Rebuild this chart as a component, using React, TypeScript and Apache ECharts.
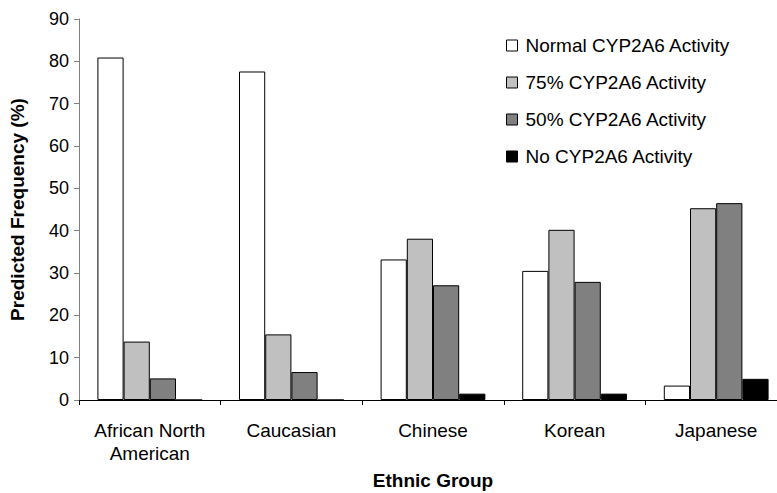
import React, { useEffect, useRef } from "react";
import * as echarts from "echarts";

const categories = ["African North\nAmerican", "Caucasian", "Chinese", "Korean", "Japanese"];
const seriesNames = ["Normal CYP2A6 Activity", "75% CYP2A6 Activity", "50% CYP2A6 Activity", "No CYP2A6 Activity"];
const normalActivity = [80.9, 77.6, 33.2, 30.5, 3.4];
const activity75 = [13.8, 15.5, 38.1, 40.2, 45.3];
const activity50 = [5.1, 6.6, 27.1, 27.9, 46.5];
const noActivity = [0, 0, 1.5, 1.5, 5.0];
const colors = ["#ffffff", "#c0c0c0", "#808080", "#000000"];

const FONT = "'Liberation Sans', Arial, sans-serif";

export default function App() {
  const ref = useRef<HTMLDivElement>(null);
  useEffect(() => {
    if (!ref.current) return;
    const chart = echarts.init(ref.current, null, { renderer: "svg" });
    const values = [normalActivity, activity75, activity50, noActivity];
    chart.setOption({
      animation: false,
      backgroundColor: "#ffffff",
      textStyle: { fontFamily: FONT },
      grid: {
        left: 79,
        top: 19,
        bottom: 93,
        right: -10,
        containLabel: false,
        outerBoundsMode: "none",
      },
      legend: {
        orient: "vertical",
        left: 506,
        top: 36,
        padding: 0,
        itemWidth: 11,
        itemHeight: 11,
        itemGap: 18,
        icon: "rect",
        textStyle: { fontFamily: FONT, fontSize: 19, color: "#000", padding: [0, 0, 0, 3] },
        data: seriesNames.map((n, i) => ({
          name: n,
          itemStyle: { color: colors[i], borderColor: "#000", borderWidth: 1 },
        })),
      },
      xAxis: {
        type: "category",
        data: categories,
        name: "Ethnic Group",
        nameLocation: "middle",
        nameGap: 71,
        nameTextStyle: { fontFamily: FONT, fontSize: 19, fontWeight: "bold", color: "#000" },
        axisLine: { lineStyle: { color: "#000", width: 1 } },
        axisTick: { show: true, length: 5, lineStyle: { color: "#000" } },
        axisLabel: {
          fontFamily: FONT,
          fontSize: 19,
          color: "#000",
          margin: 19,
          lineHeight: 23,
          interval: 0,
        },
      },
      yAxis: {
        type: "value",
        min: 0,
        max: 90,
        interval: 10,
        name: "Predicted Frequency (%)",
        nameLocation: "middle",
        nameGap: 52,
        nameTextStyle: { fontFamily: FONT, fontSize: 19, fontWeight: "bold", color: "#000" },
        axisLine: { show: true, lineStyle: { color: "#808080", width: 1 } },
        axisTick: { show: true, length: 5, lineStyle: { color: "#808080" } },
        axisLabel: { fontFamily: FONT, fontSize: 18, color: "#000", margin: 10 },
        splitLine: { show: false },
      },
      series: seriesNames.map((n, i) => ({
        name: n,
        type: "bar",
        data: values[i],
        barGap: "0%",
        barCategoryGap: "26%",
        itemStyle: { color: colors[i], borderColor: "#000", borderWidth: 1 },
      })),
    });
    return () => chart.dispose();
  }, []);
  return (
    <div
      ref={ref}
      style={{ position: "fixed", left: 0, top: 0, width: 777, height: 493 }}
    />
  );
}
